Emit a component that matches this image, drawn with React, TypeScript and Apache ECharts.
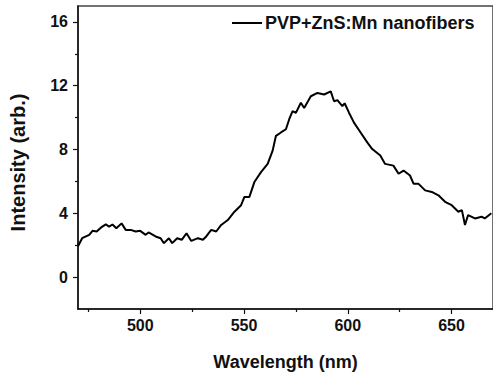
import React, { useEffect, useRef } from "react";
import * as echarts from "echarts";

const seriesName = "PVP+ZnS:Mn nanofibers";

const wavelengths = [
  470, 472, 475.4, 477, 479, 481, 483.4, 485, 486.6, 488.5, 491, 493, 495.4, 497.8,
  500, 502.6, 504, 507.4, 509.8, 511.4, 513.8, 515.4, 517.8, 520, 522.3, 524.6,
  527.8, 530.2, 531.8, 534.2, 536.6, 539, 542.2, 545.4, 548.6, 550.2, 552.6, 555,
  558.2, 561.4, 563.8, 565.4, 567.8, 570.2, 571.8, 573.4, 575, 577.4, 579, 582.2,
  585.4, 588.6, 591.8, 593.4, 595, 597.4, 598.5, 600.6, 603, 606.2, 609.4, 611.8,
  615.7, 618, 622, 624.5, 626.9, 630, 631.7, 634, 637.3, 640.5, 643.7, 646.9,
  650.1, 653.3, 655, 656.5, 658, 661.3, 664.5, 666, 669.2,
];

const intensity = [
  1.93, 2.44, 2.65, 2.9, 2.86, 3.1, 3.31, 3.17, 3.3, 3.06, 3.37, 2.96, 2.96, 2.86,
  2.9, 2.65, 2.8, 2.55, 2.44, 2.13, 2.44, 2.13, 2.44, 2.34, 2.75, 2.27,
  2.44, 2.34, 2.55, 2.96, 2.86, 3.27, 3.58, 4.1, 4.51, 5.03, 5.03, 5.96,
  6.58, 7.1, 7.93, 8.86, 9.07, 9.27, 9.9, 10.41, 10.3, 10.93, 10.6, 11.34,
  11.55, 11.45, 11.65, 11.03, 11.1, 10.72, 10.9, 10.31, 9.69, 9.07, 8.45, 8.03,
  7.62, 7.1, 6.99, 6.48, 6.68, 6.37, 5.86, 5.86, 5.44, 5.34, 5.13, 4.72,
  4.51, 4.1, 4.2, 3.27, 3.89, 3.68, 3.79, 3.68, 4.0,
];

const xMajorTicks = [500, 550, 600, 650];
const xMinorTicks = [475, 525, 575, 625];
const yMajorTicks = [0, 4, 8, 12, 16];
const yMinorTicks = [2, 6, 10, 14];

const FONT = "Arial, 'Liberation Sans', sans-serif";
const AXIS_COLOR = "#111";

export default function App() {
  const ref = useRef<HTMLDivElement>(null);

  useEffect(() => {
    if (!ref.current) return;
    const chart = echarts.init(ref.current, null, { renderer: "svg" });
    const data = wavelengths.map((w, i) => [w, intensity[i]]);
    const labelStyle = {
      fontFamily: FONT,
      fontWeight: "bold" as const,
      fontSize: 16,
      color: "#111",
    };
    chart.setOption({
      animation: false,
      backgroundColor: "#fff",
      grid: {
        left: 76,
        top: 6,
        width: 418,
        height: 305,
        show: true,
        borderColor: "#444",
        borderWidth: 1.5,
        backgroundColor: "transparent",
      },
      legend: {
        data: [seriesName],
        left: 232,
        top: 14,
        padding: 0,
        icon: "rect",
        itemWidth: 30,
        itemHeight: 2,
        itemStyle: { color: "#000" },
        textStyle: {
          fontFamily: FONT,
          fontWeight: "bold",
          fontSize: 18,
          color: "#111",
          padding: [0, 0, 0, -2],
        },
      },
      xAxis: [
        {
          type: "value",
          min: 470,
          max: 670,
          position: "bottom",
          name: "Wavelength (nm)",
          nameLocation: "middle",
          nameGap: 44,
          nameTextStyle: { ...labelStyle, fontSize: 18 },
          axisLine: { show: true, onZero: false, lineStyle: { color: AXIS_COLOR, width: 1.5 } },
          axisTick: {
            show: true,
            customValues: xMajorTicks,
            length: 5,
            lineStyle: { color: AXIS_COLOR, width: 1.2 },
          },
          axisLabel: { customValues: xMajorTicks, margin: 8, ...labelStyle },
          splitLine: { show: false },
        },
        {
          type: "value",
          min: 470,
          max: 670,
          position: "bottom",
          axisLine: { show: false, onZero: false },
          axisTick: {
            show: true,
            customValues: xMinorTicks,
            length: 3,
            lineStyle: { color: AXIS_COLOR, width: 1.2 },
          },
          axisLabel: { show: false },
          splitLine: { show: false },
        },
      ],
      yAxis: [
        {
          type: "value",
          min: -2,
          max: 17,
          position: "left",
          name: "Intensity (arb.)",
          nameLocation: "middle",
          nameRotate: 90,
          nameGap: 50,
          nameTextStyle: { ...labelStyle, fontSize: 20, padding: [0, 10, 0, 0] },
          axisLine: { show: true, onZero: false, lineStyle: { color: AXIS_COLOR, width: 1.5 } },
          axisTick: {
            show: true,
            customValues: yMajorTicks,
            length: 5,
            lineStyle: { color: AXIS_COLOR, width: 1.2 },
          },
          axisLabel: { customValues: yMajorTicks, margin: 10, ...labelStyle },
          splitLine: { show: false },
        },
        {
          type: "value",
          min: -2,
          max: 17,
          position: "left",
          axisLine: { show: false, onZero: false },
          axisTick: {
            show: true,
            customValues: yMinorTicks,
            length: 3,
            lineStyle: { color: AXIS_COLOR, width: 1.2 },
          },
          axisLabel: { show: false },
          splitLine: { show: false },
        },
      ],
      series: [
        {
          name: seriesName,
          type: "line",
          xAxisIndex: 0,
          yAxisIndex: 0,
          data,
          showSymbol: false,
          symbol: "none",
          lineStyle: { color: "#000", width: 2 },
          itemStyle: { color: "#000" },
        },
      ],
    });
    return () => chart.dispose();
  }, []);

  return <div ref={ref} style={{ width: 493, height: 376, position: "absolute", left: 0, top: 0 }} />;
}
